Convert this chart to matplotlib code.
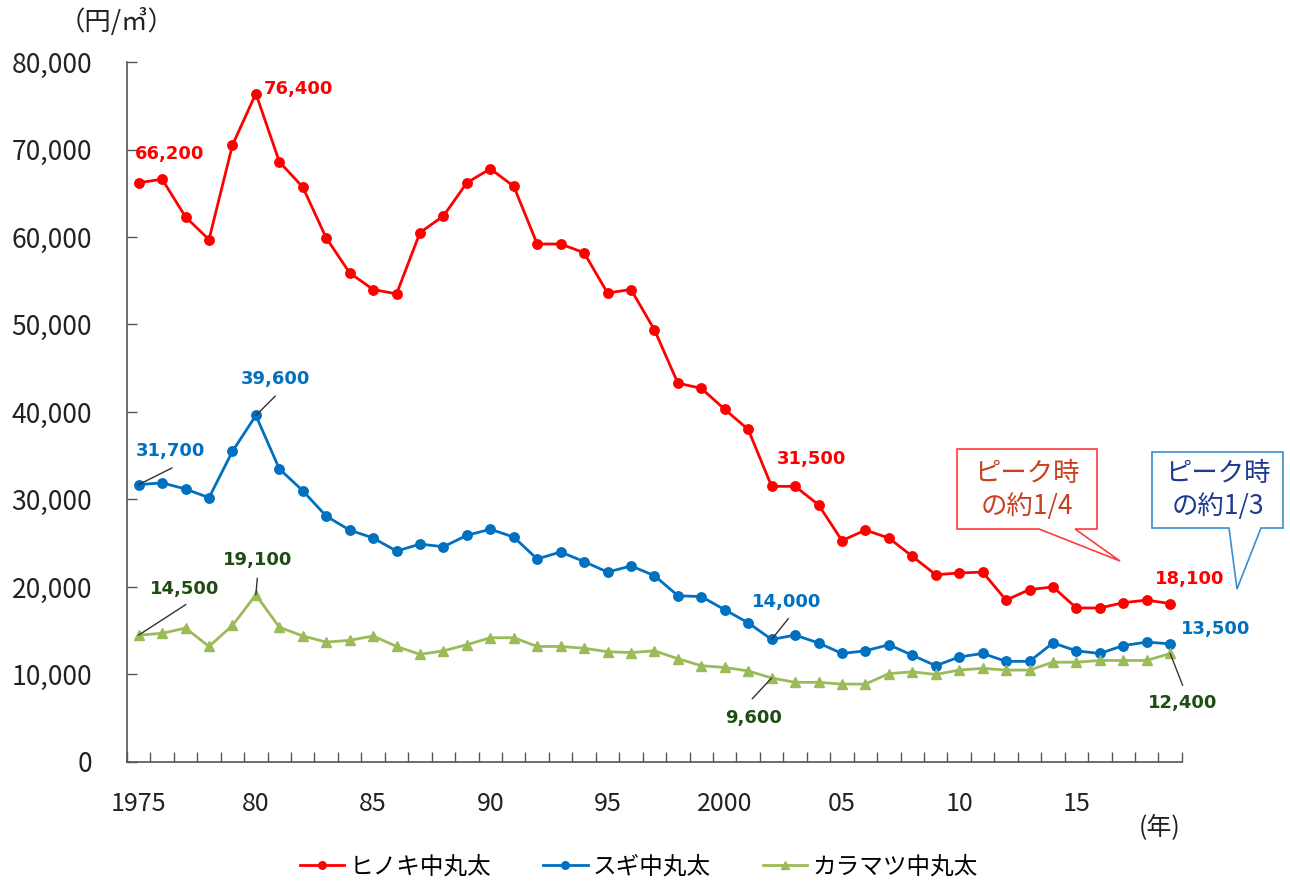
import numpy as np
import matplotlib
matplotlib.use('Agg')
import matplotlib.pyplot as plt
from matplotlib.patches import Polygon
from matplotlib.ticker import FuncFormatter

plt.rcParams['font.family'] = ['Noto Sans CJK JP', 'DejaVu Sans']

# 丸太価格 (円/m3)
years = np.arange(1975, 2020)
hinoki = [66200, 66600, 62300, 59700, 70500, 76400, 68600, 65700, 59900, 55900,
          54000, 53500, 60500, 62400, 66200, 67800, 65800, 59200, 59200, 58200,
          53600, 54000, 49400, 43300, 42700, 40300, 38000, 31500, 31500, 29400,
          25300, 26500, 25600, 23500, 21400, 21600, 21700, 18500, 19700, 20000,
          17600, 17600, 18200, 18500, 18100]
sugi = [31700, 31900, 31200, 30200, 35500, 39600, 33500, 31000, 28100, 26500,
        25600, 24100, 24900, 24600, 25900, 26600, 25700, 23200, 24000, 22900,
        21700, 22400, 21300, 19000, 18900, 17400, 15900, 14000, 14500, 13600,
        12400, 12700, 13400, 12200, 11000, 12000, 12400, 11500, 11500, 13600,
        12700, 12400, 13300, 13700, 13500]
karamatsu = [14500, 14700, 15300, 13200, 15600, 19100, 15400, 14400, 13700, 13900,
             14400, 13200, 12300, 12700, 13400, 14200, 14200, 13200, 13200, 13000,
             12600, 12500, 12700, 11800, 11000, 10800, 10400, 9600, 9100, 9100,
             8900, 8900, 10100, 10300, 10000, 10500, 10700, 10500, 10500, 11400,
             11400, 11600, 11600, 11600, 12400]

names = ['ヒノキ中丸太', 'スギ中丸太', 'カラマツ中丸太']
xlabels = ['1975', '80', '85', '90', '95', '2000', '05', '10', '15']

red = '#FF0000'
blue = '#0070C0'
green = '#9BBB59'
dgreen = '#1E4D14'

fig = plt.figure(figsize=(12.9, 8.86), dpi=100)
ax = fig.add_axes([0.0984, 0.140, 0.8178, 0.790])

l1, = ax.plot(years, hinoki, color=red, lw=2, marker='o', ms=6.8, label=names[0])
l2, = ax.plot(years, sugi, color=blue, lw=2, marker='o', ms=6.8, label=names[1])
l3, = ax.plot(years, karamatsu, color=green, lw=2, marker='^', ms=6.8, label=names[2])

ax.set_xlim(1974.5, 2019.5)
ax.set_ylim(0, 80000)
ax.set_yticks(np.arange(0, 80001, 10000))
ax.yaxis.set_major_formatter(FuncFormatter(lambda v, p: '{:,.0f}'.format(v)))
ax.set_xticks(np.arange(1975, 2016, 5))
ax.set_xticklabels(xlabels)
ax.set_xticks(np.arange(1974.5, 2020, 1), minor=True)
ax.tick_params(axis='x', which='major', length=0, pad=21, labelsize=18, colors='#222222')
ax.tick_params(axis='x', which='minor', direction='in', length=7, width=1, color='#555555')
ax.tick_params(axis='y', direction='in', length=7, width=1, color='#555555', pad=25,
               labelsize=19, labelcolor='#222222')
for s in ['top', 'right']:
    ax.spines[s].set_visible(False)
for s in ['left', 'bottom']:
    ax.spines[s].set_color('#555555')
    ax.spines[s].set_linewidth(1.2)


def label(x, vals, txt, color, off, lead=None):
    v = vals[x - 1975]
    ax.annotate(txt, xy=(x, v), xytext=off, textcoords='offset points',
                ha='center', va='center', color=color, fontsize=13,
                fontweight='bold', family='DejaVu Sans')
    if lead is not None:
        ax.annotate('', xy=(x, v), xytext=lead, textcoords='offset points',
                    arrowprops=dict(arrowstyle='-', color='#333333', lw=1,
                                    shrinkA=0, shrinkB=0))


label(1975, hinoki, '66,200', red, (22, 21))
label(1980, hinoki, '76,400', red, (31, 3))
label(2002, hinoki, '31,500', red, (29, 20))
label(2019, hinoki, '18,100', red, (14, 18))
label(1975, sugi, '31,700', blue, (23, 24), (24, 12))
label(1980, sugi, '39,600', blue, (14, 26), (14, 14))
label(2002, sugi, '14,000', blue, (11, 27), (12, 15))
label(2019, sugi, '13,500', blue, (33, 11))
label(1975, karamatsu, '14,500', dgreen, (33, 33), (34, 22))
label(1980, karamatsu, '19,100', dgreen, (1, 25), (1, 12))
label(2002, karamatsu, '9,600', dgreen, (-13, -29), (-14, -15))
label(2019, karamatsu, '12,400', dgreen, (9, -36), (9, -23))


# callouts (pixel outline -> figure fraction)
def callout(pts, edge, txt, tcolor, center):
    xy = [(px / 1290, 1 - py / 886) for px, py in pts]
    fig.patches.append(Polygon(xy, closed=True, transform=fig.transFigure,
                               facecolor='white', edgecolor=edge, lw=1.2, zorder=5))
    fig.text(center[0] / 1290, 1 - center[1] / 886, txt, ha='center', va='center',
             color=tcolor, fontsize=19, linespacing=1.25, zorder=6)


callout([(957, 449), (1097, 449), (1097, 529), (1075, 529), (1120, 561),
         (1039, 529), (957, 529)], '#FF3B3B', 'ピーク時\nの約1/4', '#C8401F', (1027, 490))
callout([(1152, 452), (1283, 452), (1283, 528), (1261, 528), (1237, 589),
         (1229, 528), (1152, 528)], '#3A8FD0', 'ピーク時\nの約1/3', '#1F3B8F', (1218, 490))

fig.text(117 / 1290, 1 - 22 / 886, '（円/㎥）', ha='center', va='center',
         fontsize=19, color='#222222')
fig.text(1160 / 1290, 1 - 828 / 886, '(年)', ha='center', va='center',
         fontsize=18, color='#222222')

fig.legend(handles=[l1, l2, l3], loc='center', bbox_to_anchor=(0.495, 1 - 867 / 886),
           ncol=3, frameon=False, fontsize=17, handlelength=1.9, handletextpad=0.2,
           columnspacing=2.2, markerscale=0.8)

fig.savefig('out.png', dpi=100)
